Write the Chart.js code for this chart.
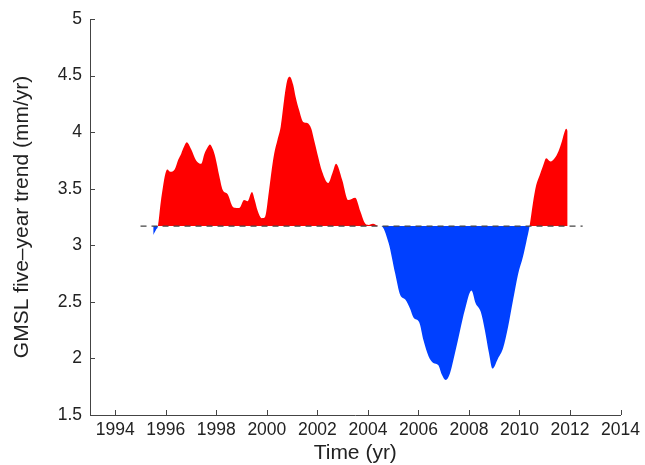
<!DOCTYPE html>
<html>
<head>
<meta charset="utf-8">
<script src="https://cdn.jsdelivr.net/npm/chart.js@4/dist/chart.umd.min.js"></script>
<style>
  html, body { margin: 0; padding: 0; background: #fff; }
</style>
</head>
<body>
<canvas id="gmsl" width="645" height="465"></canvas>
<script>
// five-year GMSL trend
const years = [
  1995.50, 1995.62, 1995.69, 1995.80, 1995.89, 1995.98, 1996.06, 1996.18, 1996.35, 1996.50,
  1996.61, 1996.72, 1996.83, 1997.00, 1997.20, 1997.40, 1997.53, 1997.64, 1997.75, 1997.86,
  1997.96, 1998.12, 1998.25, 1998.45, 1998.65, 1998.78, 1998.91, 1999.10, 1999.24, 1999.41,
  1999.52, 1999.63, 1999.80, 1999.93, 2000.09, 2000.20, 2000.29, 2000.42, 2000.55, 2000.68,
  2000.81, 2000.91, 2001.04, 2001.14, 2001.27, 2001.44, 2001.60, 2001.76, 2001.87, 2002.00,
  2002.19, 2002.43, 2002.60, 2002.74, 2002.98, 2003.22, 2003.50, 2003.70, 2003.90, 2004.03,
  2004.20, 2004.43, 2004.52, 2004.82, 2005.08, 2005.28, 2005.48, 2005.67, 2005.81, 2006.03,
  2006.20, 2006.40, 2006.59, 2006.79, 2006.92, 2007.08, 2007.25, 2007.45, 2007.65, 2007.84,
  2008.10, 2008.26, 2008.47, 2008.63, 2008.79, 2008.93, 2009.15, 2009.35, 2009.55, 2009.75,
  2009.94, 2010.14, 2010.27, 2010.40, 2010.53, 2010.66, 2010.80, 2010.93, 2011.06, 2011.23,
  2011.39, 2011.54, 2011.68, 2011.78, 2011.85, 2011.91
];
const trend = [
  3.09, 3.14, 3.17, 3.38, 3.52, 3.63, 3.67, 3.65, 3.67, 3.76,
  3.81, 3.87, 3.91, 3.85, 3.75, 3.72, 3.81, 3.86, 3.89, 3.85,
  3.78, 3.61, 3.49, 3.45, 3.34, 3.33, 3.33, 3.40, 3.39, 3.47,
  3.40, 3.31, 3.24, 3.25, 3.49, 3.68, 3.81, 3.93, 4.05, 4.28,
  4.46, 4.49, 4.42, 4.31, 4.20, 4.09, 4.08, 4.03, 3.93, 3.81,
  3.65, 3.55, 3.64, 3.72, 3.58, 3.40, 3.42, 3.30, 3.19, 3.18,
  3.19, 3.17, 3.17, 3.02, 2.75, 2.56, 2.52, 2.44, 2.36, 2.32,
  2.16, 2.02, 1.96, 1.94, 1.86, 1.81, 1.87, 2.05, 2.25, 2.43,
  2.60, 2.49, 2.41, 2.25, 2.05, 1.91, 2.00, 2.09, 2.28, 2.52,
  2.74, 2.90, 3.03, 3.17, 3.37, 3.53, 3.62, 3.70, 3.77, 3.74,
  3.77, 3.83, 3.92, 4.00, 4.03, 4.01
];
const baseline = 3.17;
const baselineYears = [1995, 2012.5];
const xTicks = [1994, 1996, 1998, 2000, 2002, 2004, 2006, 2008, 2010, 2012, 2014];

const points = years.map((x, i) => ({ x: x, y: trend[i] }));
const basePoints = baselineYears.map(x => ({ x: x, y: baseline }));

// matlab style ticks, pointing into the plot
const inwardTicks = {
  id: 'inwardTicks',
  afterDraw(chart) {
    const ctx = chart.ctx;
    const xs = chart.scales.x, ys = chart.scales.y;
    const len = 5;
    ctx.save();
    ctx.strokeStyle = '#444';
    ctx.lineWidth = 1;
    ctx.beginPath();
    xs.ticks.forEach(t => {
      const px = Math.round(xs.getPixelForValue(t.value)) + 0.5;
      ctx.moveTo(px, ys.bottom);
      ctx.lineTo(px, ys.bottom - len);
    });
    ys.ticks.forEach(t => {
      const py = Math.round(ys.getPixelForValue(t.value)) + 0.5;
      ctx.moveTo(xs.left, py);
      ctx.lineTo(xs.left + len, py);
    });
    ctx.stroke();
    ctx.restore();
  }
};

const tickFont = { family: 'Liberation Sans, Arial, sans-serif', size: 17.5 };
const titleFont = { family: 'Liberation Sans, Arial, sans-serif', size: 21 };

new Chart(document.getElementById('gmsl'), {
  type: 'line',
  data: {
    datasets: [
      {
        data: basePoints,
        borderColor: '#444',
        borderWidth: 1.3,
        borderDash: [6, 5],
        pointRadius: 0,
        fill: false,
        order: 0
      },
      {
        data: points,
        borderWidth: 0,
        borderColor: 'rgba(0,0,0,0)',
        pointRadius: 0,
        cubicInterpolationMode: 'monotone',
        fill: { target: { value: baseline }, above: '#ff0000', below: '#0040ff' },
        order: 1
      }
    ]
  },
  options: {
    responsive: false,
    animation: false,
    layout: { padding: { top: 19, right: 22, left: 0, bottom: 0 } },
    plugins: {
      legend: { display: false },
      tooltip: { enabled: false }
    },
    scales: {
      x: {
        type: 'linear',
        min: 1993,
        max: 2014,
        afterBuildTicks: s => { s.ticks = xTicks.map(v => ({ value: v })); },
        afterFit: s => { s.height = 50; },
        grid: { drawOnChartArea: false, drawTicks: false },
        border: { display: true, color: '#444', width: 1 },
        ticks: {
          padding: 5,
          color: '#222',
          font: tickFont,
          maxRotation: 0,
          autoSkip: false,
          callback: v => String(v)
        },
        title: {
          display: true,
          text: 'Time (yr)',
          color: '#222',
          font: titleFont,
          padding: { top: 0, bottom: -1 }
        }
      },
      y: {
        min: 1.5,
        max: 5,
        afterFit: s => { s.width = 90; },
        grid: { drawOnChartArea: false, drawTicks: false },
        border: { display: true, color: '#444', width: 1 },
        ticks: {
          stepSize: 0.5,
          padding: 8,
          color: '#222',
          font: tickFont,
          callback: v => String(v)
        },
        title: {
          display: true,
          text: 'GMSL five–year trend (mm/yr)',
          color: '#222',
          font: titleFont,
          padding: { top: 10, bottom: 0 }
        }
      }
    }
  },
  plugins: [inwardTicks]
});
</script>
</body>
</html>
